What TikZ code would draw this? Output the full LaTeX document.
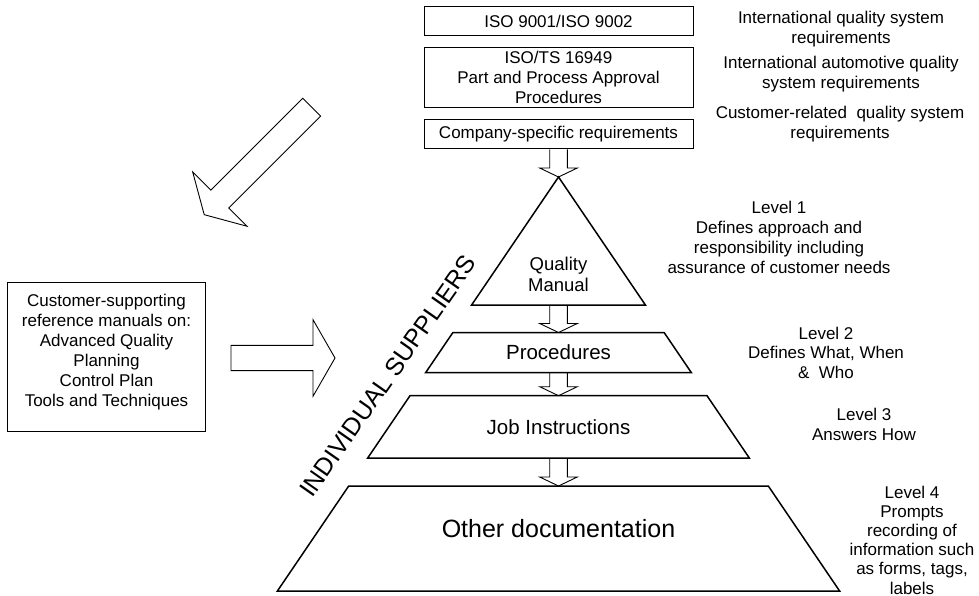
\documentclass[tikz,border=0pt]{standalone}
\usepackage{fontspec}
\setmainfont{Liberation Sans}
\usetikzlibrary{calc}

% hollow arrow pointing along +x, length given as argument
\tikzset{
  pics/fatarrow/.style={code={
    \draw[blockarrow] (0,-12.6) -- ({#1-22},-12.6) -- ({#1-22},-38.3) -- (#1,0)
      -- ({#1-22},38.3) -- ({#1-22},12.6) -- (0,12.6) -- cycle;
  }}
}

% small hollow arrow from the bottom of one level to the top of the next
\newcommand\levelarrow[2]{%
  \path let \p1=(#1), \p2=(#2) in [blockarrow]
    ({\x1-8.8pt},\y1) -- ({\x1-8.8pt},{\y2+9pt}) -- ({\x1-18.8pt},{\y2+9pt})
    -- (\x1,\y2) -- ({\x1+18.8pt},{\y2+9pt}) -- ({\x1+8.8pt},{\y2+9pt})
    -- ({\x1+8.8pt},\y1);
}

\begin{document}
\begin{tikzpicture}[x=1pt,y=-1pt,
  txt/.style={font=\fontsize{17}{20}\selectfont, align=center, inner sep=0pt},
  box/.style={draw, line width=1pt, inner sep=0pt, align=center,
    font=\fontsize{17}{20}\selectfont, minimum width=269pt},
  level/.style={draw, line width=1.5pt, line join=miter},
  leveltext/.style={align=center, inner sep=0pt},
  blockarrow/.style={draw, line width=0.9pt, line join=miter}]
\useasboundingbox (0,0) rectangle (979,596);

% requirement boxes
\node[box, minimum height=29pt]   (iso) at (558.5,21.5) {ISO 9001/ISO 9002};
\node[box, minimum height=59.6pt] (ts)  at (558.5,77.5) {ISO/TS 16949\\Part and Process Approval\\Procedures};
\node[box, minimum height=29.7pt] (csr) at (558.5,134)  {Company-specific requirements};

% notes on the right
\node[txt] (r1) at (841,29.4)  {International quality system\\requirements};
\node[txt] (r2) at (841,74.5)  {International automotive quality\\system requirements};
\node[txt] (r3) at (840,124.2) {Customer-related\ \ quality system\\requirements};

% document pyramid
\draw[level] (558.5,177) -- (645.4,305) -- (471.6,305) -- cycle;
\draw[level] (452.9,332.5) -- (664.1,332.5) -- (691.4,372.7) -- (425.6,372.7) -- cycle;
\draw[level] (410,395.7) -- (707,395.7) -- (749.3,458) -- (367.7,458) -- cycle;
\draw[level] (348.7,486) -- (768.3,486) -- (839.6,591) -- (277.4,591) -- cycle;

\coordinate (qm-top)   at (558.5,177);
\coordinate (qm-bot)   at (558.5,305);
\coordinate (proc-top) at (558.5,332.5);
\coordinate (proc-bot) at (558.5,372.7);
\coordinate (job-top)  at (558.5,395.7);
\coordinate (job-bot)  at (558.5,458);
\coordinate (oth-top)  at (558.5,486);

\node[leveltext, font=\fontsize{18.5}{21.5}\selectfont] (qm) at (558.5,274.4) {Quality\\Manual};
\node[leveltext, font=\fontsize{20.5}{24}\selectfont] (proc) at (558.5,352.5) {Procedures};
\node[leveltext, font=\fontsize{20.5}{24}\selectfont] (job) at (558.5,427.5) {Job Instructions};
\node[leveltext, font=\fontsize{25}{30}\selectfont] (oth) at (558.5,529) {Other documentation};

\levelarrow{csr.south}{qm-top}
\levelarrow{qm-bot}{proc-top}
\levelarrow{proc-bot}{job-top}
\levelarrow{job-bot}{oth-top}

% level descriptions
\node[txt] (l1) at (779,237) {Level 1\\Defines approach and\\responsibility including\\assurance of customer needs};
\node[txt, font=\fontsize{17}{19.5}\selectfont] (l2) at (826,352.5) {Level 2\\Defines What, When\\\&\ \ Who};
\node[txt] (l3) at (864,424) {Level 3\\Answers How};
\node[txt, font=\fontsize{17}{19.2}\selectfont] (l4) at (912,540) {Level 4\\Prompts\\recording of\\information such\\as forms, tags,\\labels};

% reference manuals
\node[box, minimum width=198.4pt, minimum height=149.4pt] (ref) at (106.5,357)
  {Customer-supporting\\reference manuals on:\\Advanced Quality\\Planning\\Control Plan\\Tools and Techniques\rule[-12.6pt]{0pt}{12.6pt}};

\node[font=\fontsize{25}{30}\selectfont, rotate=55, inner sep=0pt] (sup) at (388,376) {INDIVIDUAL SUPPLIERS};

% hollow arrows
\pic[rotate=225] at (311.7,107.2) {fatarrow=152};
\pic at (231,358) {fatarrow=104};
\end{tikzpicture}
\end{document}
